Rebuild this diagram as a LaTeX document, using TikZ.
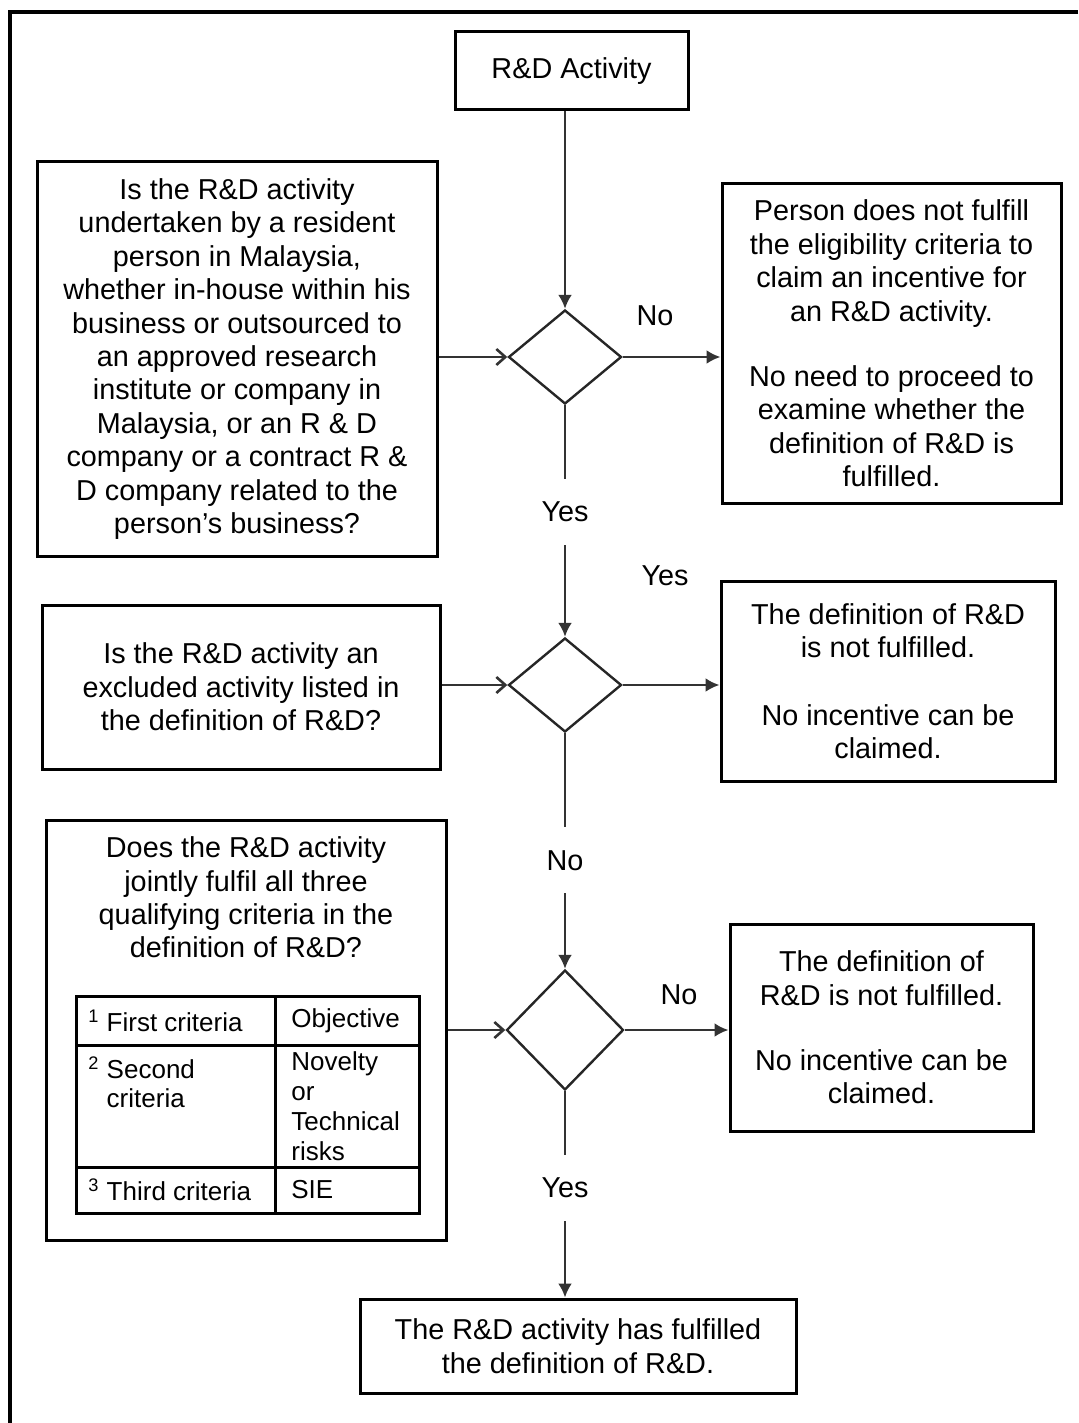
\documentclass[tikz,border=0pt]{standalone}
\usepackage{fontspec}
\setmainfont{Liberation Sans}
\usetikzlibrary{arrows.meta,positioning,shapes.geometric}

\begin{document}
\begin{tikzpicture}[
    x=0.5pt, y=-0.5pt,
    every node/.style={font=\fontsize{14.4pt}{16.7pt}\selectfont},
    box/.style={rectangle, draw=black, line width=1.5pt, align=center, inner sep=0pt},
    decision/.style={diamond, draw=black!85, line width=1.2pt, inner sep=0pt},
    flow/.style={-{Latex[length=7pt,width=7pt]}, line width=1.3pt, black!80},
    into/.style={-{Straight Barb[length=4.5pt,width=8pt]}, line width=1.3pt, black!80},
    answer/.style={fill=white, text=black, inner xsep=3pt, minimum height=33pt},
    cell/.style={anchor=west, align=left, inner sep=0pt, font=\fontsize{13pt}{14.9pt}\selectfont},
    tablerule/.style={line width=1.5pt}
]
\useasboundingbox (0,0) rectangle (1078,1423);

% Page frame
\draw[line width=2pt] (1078,12.5) -- (9.5,12.5) -- (9.5,1423);

% Start
\node[box, minimum width=116.5pt, minimum height=39pt] (rd) at (571.5,71) {R\&D Activity};

% Questions
\node[box, minimum width=200pt, minimum height=197pt] (q1) at (237,359) {Is the R\&D activity\\undertaken by a resident\\person in Malaysia,\\whether in-house within his\\business or outsourced to\\an approved research\\institute or company in\\Malaysia,  or an R \& D\\company or a contract R \&\\D company related to the\\person’s business?};
\node[box, minimum width=199pt, minimum height=82pt] (q2) at (241,687) {Is the R\&D activity an\\excluded activity listed in\\the definition of R\&D?};
\node[box, minimum width=200pt, minimum height=210pt] (q3) at (246,1030) {};
\node[align=center] (q3txt) at (246,897.5) {Does the R\&D activity\\jointly fulfil all three\\qualifying criteria in the\\definition of R\&D?};

% Criteria table
\draw[tablerule] (76,996) rectangle (419,1213);
\draw[tablerule] (275,996) -- (275,1213) (76,1045) -- (419,1045) (76,1167) -- (419,1167);
\node[cell] (c11) at (88,1021) {\textsuperscript{1} First criteria};
\node[cell] (c12) at (291,1021) {Objective};
\node[cell] (c21) at (88,1082.5) {\textsuperscript{2} Second\\\phantom{\textsuperscript{2} }criteria};
\node[cell] (c22) at (291,1106) {Novelty\\or\\Technical\\risks};
\node[cell] (c31) at (88,1190) {\textsuperscript{3} Third criteria};
\node[cell] (c32) at (291,1190) {SIE};

% Decisions
\node[decision, minimum width=56.5pt, minimum height=47pt] (d1) at (565,357) {};
\node[decision, minimum width=56.5pt, minimum height=47pt] (d2) at (565,685) {};
\node[decision, minimum width=58.5pt, minimum height=60pt] (d3) at (565,1030) {};

% Outcomes
\node[box, minimum width=169.5pt, minimum height=159.5pt] (r1) at (891.5,343.5) {Person does not fulfill\\the eligibility criteria to\\claim an incentive for\\an R\&D activity.\\[16pt]No need to proceed to\\examine whether the\\definition of R\&D is\\fulfilled.};
\node[box, minimum width=167pt, minimum height=100pt] (r2) at (888,681) {The definition of R\&D\\is not fulfilled.\\[17pt]No incentive can be\\claimed.};
\node[box, minimum width=151.5pt, minimum height=103.5pt] (r3) at (881.5,1027.5) {The definition of\\R\&D is not fulfilled.\\[16pt]No incentive can be\\claimed.};
\node[box, minimum width=218pt, minimum height=47pt] (fin) at (578,1346) {The R\&D activity has fulfilled\\the definition of R\&D.};

% Flows
\draw[flow] (rd.south -| d1.north) -- (d1.north);
\draw[into] (q1.east |- d1.west) -- (d1.west);
\draw[flow] (d1.east) -- (d1.east -| r1.west);
\draw[flow] (d1.south) -- node[answer, pos=0.46] (yes1) {Yes} (d2.north);
\draw[into] (q2.east |- d2.west) -- (d2.west);
\draw[flow] (d2.east) -- (d2.east -| r2.west);
\draw[flow] (d2.south) -- node[answer, pos=0.54] (no2) {No} (d3.north);
\draw[into] (q3.east |- d3.west) -- (d3.west);
\draw[flow] (d3.east) -- (d3.east -| r3.west);
\draw[flow] (d3.south) -- node[answer, pos=0.47] (yes3) {Yes} (d3.south |- fin.north);

% Answer labels
\node (no1) at (655,316) {No};
\node (yes2) at (665,576) {Yes};
\node (no3) at (679,995) {No};

\end{tikzpicture}
\end{document}
